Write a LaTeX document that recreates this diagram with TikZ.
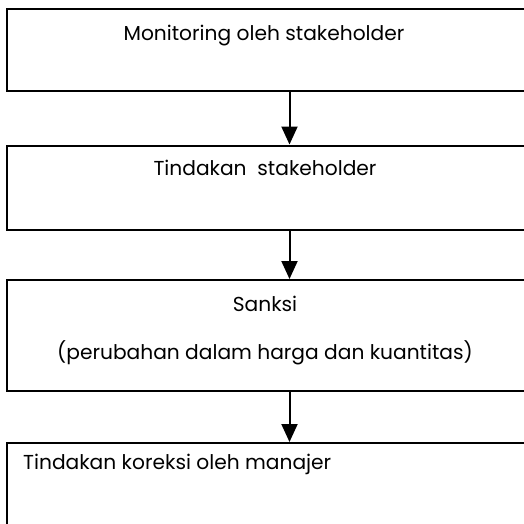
\documentclass[tikz,border=0pt]{standalone}
\usepackage{fontspec}
\setmainfont{Poppins}
\usetikzlibrary{arrows.meta}
\tikzset{
  box/.style={draw=black, line width=2pt, fill=none, inner sep=0pt, minimum width=533pt},
  lbl/.style={inner sep=0pt, font=\fontsize{20.2}{24}\selectfont},
  arr/.style={line width=2pt, -{Triangle[width=16pt,length=18pt]}}
}
\begin{document}
\begin{tikzpicture}[x=1pt,y=-1pt]
\useasboundingbox (0,0) rectangle (524,523);
\clip (0,0) rectangle (524,523);
\fill[white] (0,0) rectangle (524,523);
\node[box, minimum height=81.5pt] (b1) at (273.5,49.75) {};
\node[box, minimum height=84.5pt] (b2) at (273.5,187.75) {};
\node[box, minimum height=111pt] (b3) at (273.5,335.5) {};
\node[box, minimum height=98pt] (b4) at (273.5,492) {};
\node[lbl, anchor=base] (t1) at (264,40) {Monitoring oleh stakeholder};
\node[lbl, anchor=base] (t2) at (265,175) {Tindakan\ \ stakeholder};
\node[lbl, anchor=base] (t3) at (265,311) {Sanksi};
\node[lbl, anchor=base] (t3b) at (265,359) {(perubahan dalam harga dan kuantitas)};
\node[lbl, anchor=base west] (t4) at (23,469) {Tindakan koreksi oleh manajer};
\coordinate (ax) at (289.5,0);
\draw[arr] (b1.south -| ax) -- (b2.north -| ax);
\draw[arr] (b2.south -| ax) -- (b3.north -| ax);
\draw[arr] (b3.south -| ax) -- (b4.north -| ax);
\end{tikzpicture}
\end{document}
